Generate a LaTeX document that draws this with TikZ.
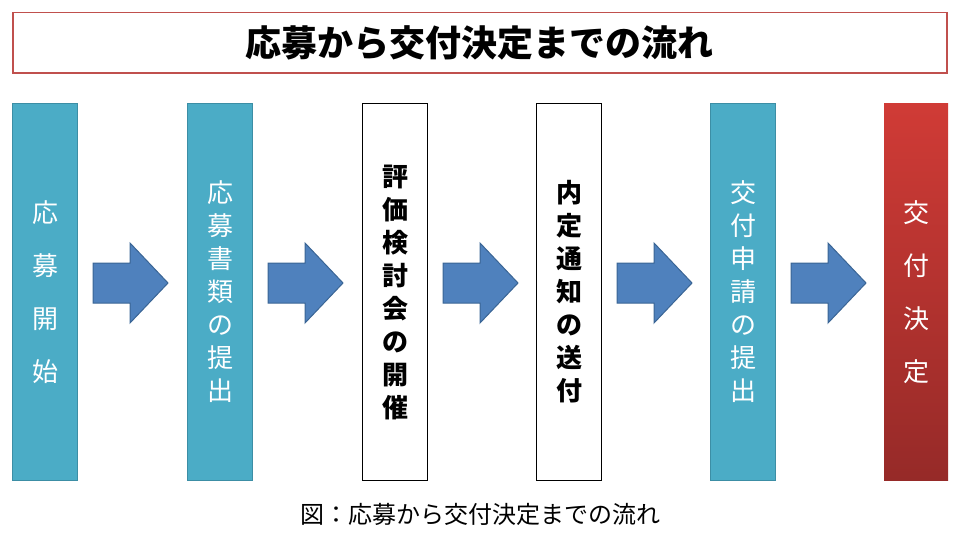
\documentclass[tikz,border=0pt]{standalone}
\usepackage{fontspec}
\setmainfont{Noto Sans CJK JP}
\begin{document}
\begin{tikzpicture}[x=1pt,y=-1pt,
  box/.style={draw=#1,line width=1pt,minimum width=65pt,minimum height=377pt,anchor=north west,inner sep=0pt},
  vt/.style={font=\fontsize{26}{33}\selectfont\bfseries,align=center},
  sp/.style={font=\fontsize{26}{53}\selectfont,align=center}]
\definecolor{teal}{HTML}{4BACC6}
\definecolor{tealb}{HTML}{3C8EA5}
\definecolor{arr}{HTML}{4F81BD}
\definecolor{arrb}{HTML}{3A6595}
\definecolor{redt}{HTML}{D03B36}
\definecolor{redb}{HTML}{962A28}
\useasboundingbox (0,0) rectangle (960,535);
\node[draw={rgb,255:red,192;green,80;blue,77},line width=1.5pt,minimum width=934pt,minimum height=60pt,anchor=north west,inner sep=0pt,font=\fontsize{36}{40}\selectfont\bfseries] (title) at (12,12) {応募から交付決定までの流れ};
\node[box=tealb,fill=teal] (b1) at (12,103) {};
\node[box=tealb,fill=teal] (b2) at (187,103) {};
\node[box=black,fill=white] (b3) at (362,103) {};
\node[box=black,fill=white] (b4) at (536,103) {};
\node[box=tealb,fill=teal] (b5) at (710,103) {};
\shade[top color=redt,bottom color=redb] (884,103) rectangle (948,480);
\node[minimum width=64pt,minimum height=377pt,anchor=north west,inner sep=0pt] (b6) at (884,103) {};
\node[sp,text=white] at (b1.center) {応\\募\\開\\始};
\node[vt,text=white,font=\fontsize{26}{33}\selectfont] at (b2.center) {応\\募\\書\\類\\の\\提\\出};
\node[vt,text=black] at (b3.center) {評\\価\\検\\討\\会\\の\\開\\催};
\node[vt,text=black] at (b4.center) {内\\定\\通\\知\\の\\送\\付};
\node[vt,text=white,font=\fontsize{26}{33}\selectfont] at (b5.center) {交\\付\\申\\請\\の\\提\\出};
\node[sp,text=white] at (b6.center) {交\\付\\決\\定};
\foreach \a in {93,268,443,617,791}{
  \draw[fill=arr,draw=arrb,line width=1pt] (\a,263) -- (\a+37,263) -- (\a+37,243) -- (\a+75,283) -- (\a+37,323) -- (\a+37,303) -- (\a,303) -- cycle;
}
\node[font=\fontsize{24}{28}\selectfont] (cap) at (480,514) {図：応募から交付決定までの流れ};
\end{tikzpicture}
\end{document}
